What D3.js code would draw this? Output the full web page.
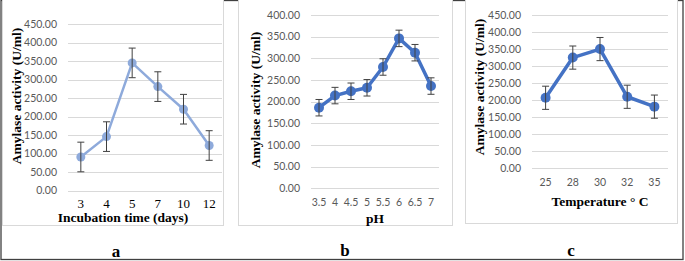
<!DOCTYPE html>
<html>
<head>
<meta charset="utf-8">
<script src="https://cdn.jsdelivr.net/npm/d3@7"></script>
<style>
  body { margin: 0; background: #fff; }
  svg { display: block; }
</style>
</head>
<body>
<div id="general"></div>
<script>
const w = 685, h = 261;

// panel a: incubation time
const timeCats = ["3", "4", "5", "7", "10", "12"];
const timeVals = [91, 146, 345, 281, 220, 122];
const timeErr = [40, 40, 40, 40, 40, 40];
const timeTicks = [0, 50, 100, 150, 200, 250, 300, 350, 400, 450];

// panel b: pH
const phCats = ["3.5", "4", "4.5", "5", "5.5", "6", "6.5", "7"];
const phVals = [186, 214, 224, 232, 280, 346, 313, 236];
const phErr = [19, 19, 19, 19, 19, 19, 19, 19];
const phTicks = [0, 50, 100, 150, 200, 250, 300, 350, 400];

// panel c: temperature
const tempCats = ["25", "28", "30", "32", "35"];
const tempVals = [207, 325, 350, 210, 181];
const tempErr = [34, 34, 34, 34, 34];
const tempTicks = [0, 50, 100, 150, 200, 250, 300, 350, 400, 450];

const yTitle = "Amylase activity (U/ml)";
const serif = "'Liberation Serif', 'DejaVu Serif', serif";
const sans = "Lato, 'Open Sans', sans-serif";

const panels = [
  { cats: timeCats, vals: timeVals, err: timeErr, ticks: timeTicks, max: 450,
    box: [2, -1, 223, 225], plot: { l: 68, r: 222, t: 24, b: 190.7 },
    color: "#8eaadb", lw: 2.5, r: 4.5, xSerif: true, xLabY: 208,
    xTitle: "Incubation time (days)", xTitleX: 123, xTitleY: 222,
    yTitleX: 21, yTitleY: 96, tag: "a", tagX: 116, tagY: 257 },
  { cats: phCats, vals: phVals, err: phErr, ticks: phTicks, max: 400,
    box: [238, -1, 452, 225], plot: { l: 311, r: 439, t: 15, b: 188.3 },
    color: "#4472c4", lw: 3.5, r: 5, xSerif: false, xLabY: 206,
    xTitle: "pH", xTitleX: 375, xTitleY: 223,
    yTitleX: 260, yTitleY: 100, tag: "b", tagX: 345, tagY: 256 },
  { cats: tempCats, vals: tempVals, err: tempErr, ticks: tempTicks, max: 450,
    box: [465, -1, 677, 223], plot: { l: 532, r: 668, t: 15, b: 168.3 },
    color: "#4472c4", lw: 3.5, r: 5, xSerif: false, xLabY: 186,
    xTitle: "Temperature \u00b0 C", xTitleX: 600, xTitleY: 206,
    yTitleX: 484, yTitleY: 87, tag: "c", tagX: 571, tagY: 256 }
];

const svg = d3.select("#general").append("svg").attr("width", w).attr("height", h);

svg.append("rect").attr("x", 1).attr("y", 0.5).attr("width", 682).attr("height", 259)
  .attr("fill", "#fff").attr("stroke", "#404040").attr("stroke-width", 1.3);

panels.forEach(p => drawPanel(p));

function drawPanel(p) {
  const g = svg.append("g");
  const [bx0, by0, bx1, by1] = p.box;
  g.append("rect").attr("x", bx0 + 0.5).attr("y", by0 + 0.5)
    .attr("width", bx1 - bx0).attr("height", by1 - by0)
    .attr("fill", "#fff").attr("stroke", "#d9d9d9");

  const x = d3.scaleBand().domain(p.cats).range([p.plot.l, p.plot.r]);
  const y = d3.scaleLinear().domain([0, p.max]).range([p.plot.b, p.plot.t]);

  // gridlines
  g.append("g").selectAll("line").data(p.ticks).join("line")
    .attr("x1", p.plot.l).attr("x2", p.plot.r)
    .attr("y1", d => Math.round(y(d)) + 0.5).attr("y2", d => Math.round(y(d)) + 0.5)
    .attr("stroke", "#d9d9d9").attr("stroke-width", 1);

  // y tick labels
  g.append("g").selectAll("text").data(p.ticks).join("text")
    .attr("x", p.plot.l - 11).attr("y", d => y(d)).attr("dy", "0.35em")
    .attr("text-anchor", "end").attr("font-family", sans).attr("font-size", 10.5)
    .attr("fill", "#595959").text(d => d3.format(".2f")(d));

  // x tick labels
  g.append("g").selectAll("text").data(p.cats).join("text")
    .attr("x", d => x(d) + x.bandwidth() / 2).attr("y", p.xLabY)
    .attr("text-anchor", "middle")
    .attr("font-family", p.xSerif ? serif : sans)
    .attr("font-size", p.xSerif ? 13 : 10.5)
    .attr("fill", p.xSerif ? "#000" : "#595959")
    .text(d => d);

  const pts = p.cats.map((c, i) => ({ c, v: p.vals[i], e: p.err[i] }));
  const cx = d => x(d.c) + x.bandwidth() / 2;

  g.append("path").datum(pts)
    .attr("d", d3.line().x(cx).y(d => y(d.v)))
    .attr("fill", "none").attr("stroke", p.color).attr("stroke-width", p.lw)
    .attr("stroke-linejoin", "round");

  g.append("g").selectAll("circle").data(pts).join("circle")
    .attr("cx", cx).attr("cy", d => y(d.v)).attr("r", p.r).attr("fill", p.color);

  // error bars
  const eb = g.append("g").attr("stroke", "#404040").attr("stroke-width", 1);
  eb.selectAll(".v").data(pts).join("line")
    .attr("x1", cx).attr("x2", cx)
    .attr("y1", d => y(d.v + d.e)).attr("y2", d => y(d.v - d.e));
  eb.selectAll(".t").data(pts).join("line")
    .attr("x1", d => cx(d) - 3.5).attr("x2", d => cx(d) + 3.5)
    .attr("y1", d => y(d.v + d.e)).attr("y2", d => y(d.v + d.e));
  eb.selectAll(".b").data(pts).join("line")
    .attr("x1", d => cx(d) - 3.5).attr("x2", d => cx(d) + 3.5)
    .attr("y1", d => y(d.v - d.e)).attr("y2", d => y(d.v - d.e));

  // titles
  g.append("text").attr("x", p.xTitleX).attr("y", p.xTitleY)
    .attr("text-anchor", "middle").attr("font-family", serif).attr("font-weight", "bold")
    .attr("font-size", 13.5).text(p.xTitle);

  g.append("text")
    .attr("transform", `translate(${p.yTitleX},${p.yTitleY}) rotate(-90)`)
    .attr("text-anchor", "middle").attr("font-family", serif).attr("font-weight", "bold")
    .attr("font-size", 13.5).text(yTitle);

  svg.append("text").attr("x", p.tagX).attr("y", p.tagY)
    .attr("text-anchor", "middle").attr("font-family", serif).attr("font-weight", "bold")
    .attr("font-size", 17).text(p.tag);
}
</script>
</body>
</html>
